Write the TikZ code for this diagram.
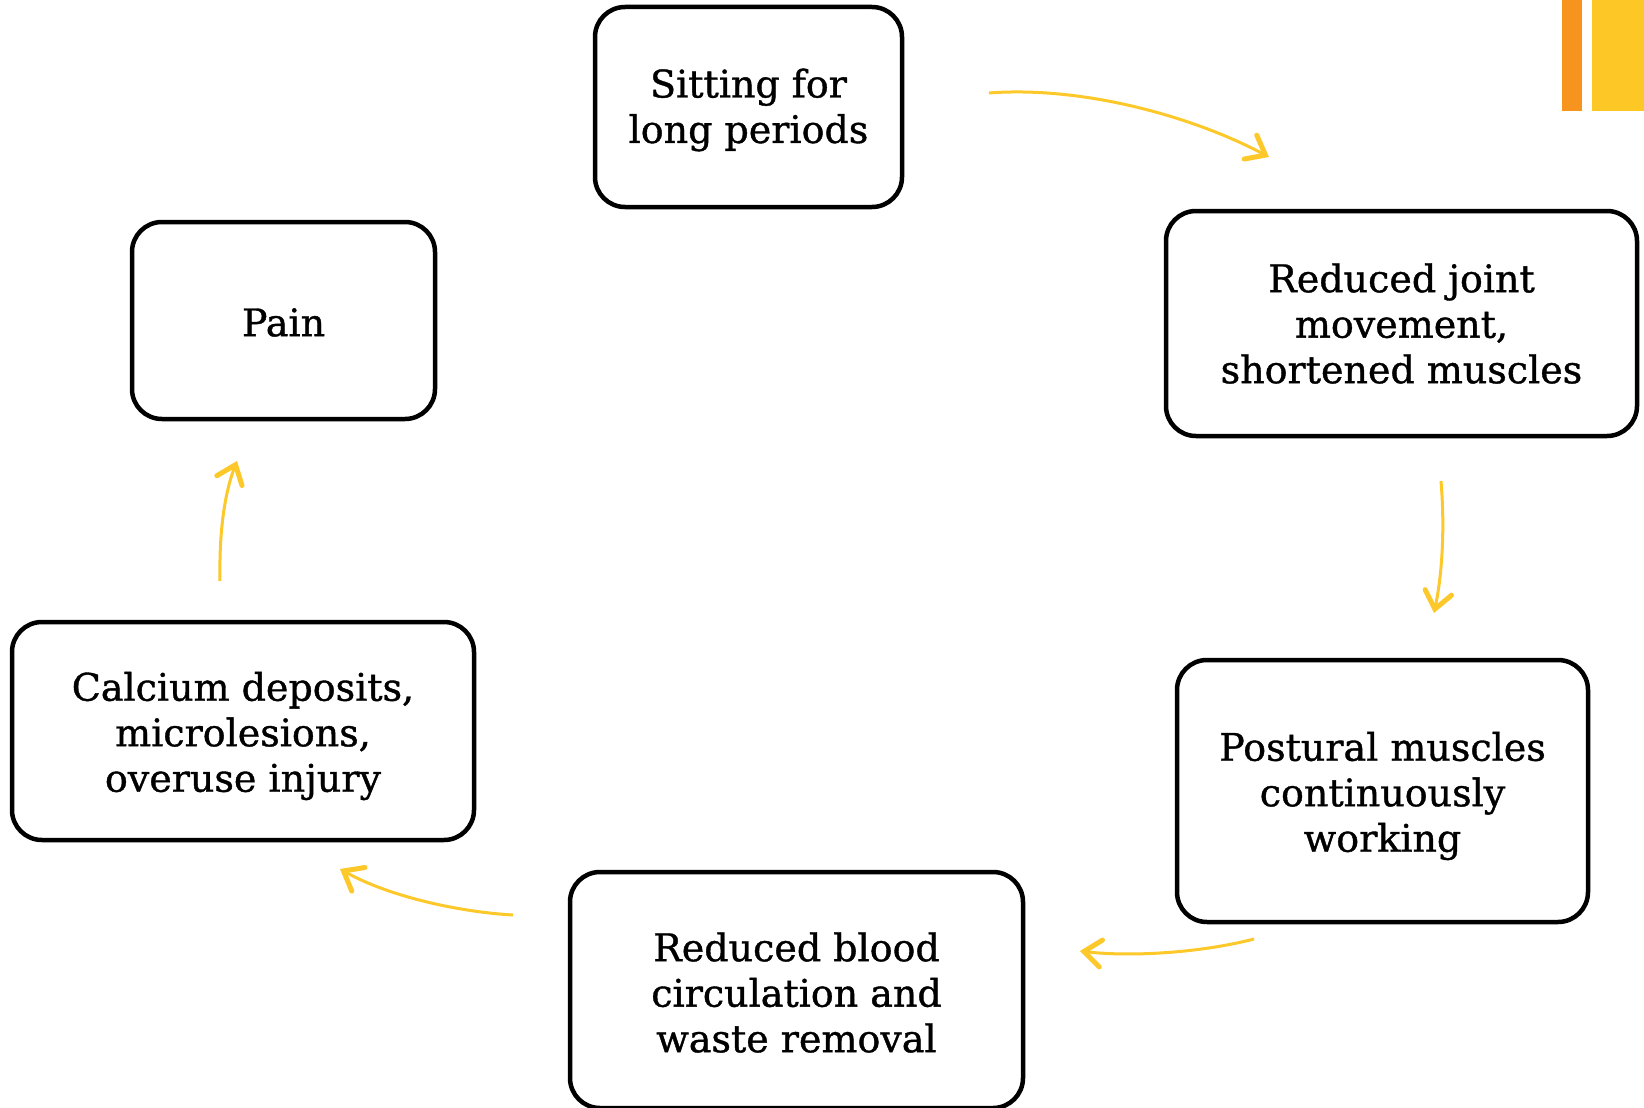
\documentclass[tikz,border=0pt]{standalone}
\usepackage{fontspec}
\setmainfont{DejaVu Serif}[FakeBold=1]
\usetikzlibrary{arrows.meta}
\definecolor{barorange}{HTML}{F7941D}
\definecolor{baryellow}{HTML}{FDC725}
\definecolor{arrowyellow}{HTML}{FCC82A}
\tikzset{
  stepbox/.style={draw=black, line width=4.5pt, rounded corners=30pt, inner sep=0pt},
  steptext/.style={inner sep=0pt, align=center, font=\fontsize{38}{45.5}\selectfont},
  cyclearrow/.style={draw=arrowyellow, line width=3pt,
    -{Straight Barb[length=17pt, width=27pt, line width=5pt, line cap=round]}}
}
\begin{document}
\begin{tikzpicture}[x=1pt, y=-1pt]
\useasboundingbox (0,0) rectangle (1644,1108);
% decorative bars
\fill[barorange] (1562,0) rectangle (1582,111);
\fill[baryellow] (1592,0) rectangle (1644,111);
% boxes
\node[stepbox, minimum width=307pt, minimum height=200pt] (sit) at (748.5,107) {};
\node[steptext] (sitt) at ([yshift=-3pt]sit.center) {Sitting for\\long periods};
\node[stepbox, minimum width=471pt, minimum height=225pt] (joint) at (1401.5,323.5) {};
\node[steptext] (jointt) at ([yshift=0pt]joint.center) {Reduced joint\\movement,\\shortened muscles};
\node[stepbox, minimum width=411pt, minimum height=262pt] (post) at (1382.5,791) {};
\node[steptext] (postt) at ([yshift=-5pt]post.center) {Postural muscles\\continuously\\working};
\node[stepbox, minimum width=453pt, minimum height=236pt] (blood) at (796.5,990) {};
\node[steptext] (bloodt) at ([yshift=-2.5pt]blood.center) {Reduced blood\\circulation and\\waste removal};
\node[stepbox, minimum width=462pt, minimum height=218pt] (calc) at (243,731) {};
\node[steptext] (calct) at ([yshift=-5pt]calc.center) {Calcium deposits,\\microlesions,\\overuse injury};
\node[stepbox, minimum width=303pt, minimum height=197pt] (pain) at (283.5,320.5) {};
\node[steptext] (paint) at ([yshift=-2pt]pain.center) {Pain};
% connector ends
\coordinate (a1s) at (989,93);   \coordinate (a1e) at (1269,157);
\coordinate (a2s) at (1441,481); \coordinate (a2e) at (1434,613);
\coordinate (a3s) at (1254,939); \coordinate (a3e) at (1080,951);
\coordinate (a4s) at (513,915);  \coordinate (a4e) at (340,869);
\coordinate (a5s) at (220,581);  \coordinate (a5e) at (237,461);
\draw[cyclearrow] (a1s) .. controls (1080,86) and (1190,115) .. (a1e);
\draw[cyclearrow] (a2s) .. controls (1445,530) and (1442,575) .. (a2e);
\draw[cyclearrow] (a3s) .. controls (1200,953) and (1130,957) .. (a3e);
\draw[cyclearrow] (a4s) .. controls (460,912) and (390,897) .. (a4e);
\draw[cyclearrow] (a5s) .. controls (219,530) and (225,492) .. (a5e);
\end{tikzpicture}
\end{document}
